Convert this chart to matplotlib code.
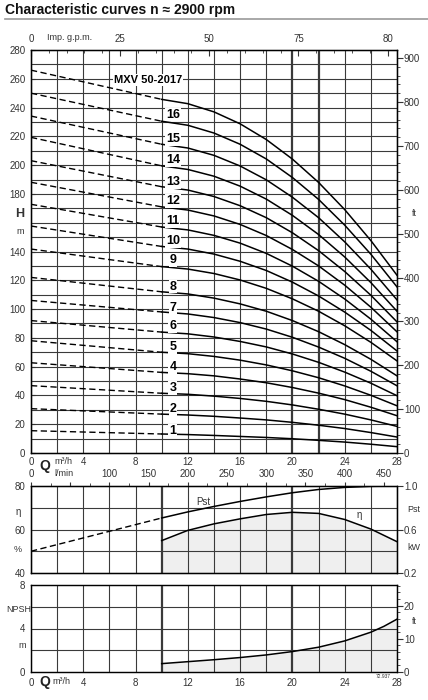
import matplotlib
matplotlib.use("Agg")
import matplotlib.pyplot as plt
from matplotlib.ticker import MultipleLocator, FixedLocator

plt.rcParams['font.family'] = ['Liberation Sans', 'DejaVu Sans']

# ---- data ----
q_dash = [0, 10]
q_solid = [10, 12, 14, 16, 18, 20, 22, 24, 26, 28]

# shut-off head (Q=0) for 1..17 stages, m
shutoff = [15.5, 30.8, 46.8, 62.7, 78.0, 92.0, 106.0, 122.0, 141.7,
           157.7, 172.8, 188.1, 203.1, 219.3, 234.1, 250.0, 266.0]

# head on the solid part (Q = 10..28), m
H01 = [13.2, 12.8, 12.2, 11.5, 10.8, 9.9, 8.8, 7.6, 6.1, 4.4]
H02 = [27.0, 26.4, 25.5, 24.3, 23.0, 21.3, 19.3, 17.0, 14.2, 11.1]
H03 = [41.5, 40.8, 39.5, 37.9, 35.9, 33.4, 30.4, 27.0, 23.0, 18.5]
H04 = [56.0, 55.1, 53.6, 51.4, 48.8, 45.5, 41.6, 37.1, 31.8, 25.9]
H05 = [70.0, 69.0, 67.1, 64.5, 61.2, 57.1, 52.3, 46.6, 40.1, 32.8]
H06 = [84.0, 82.8, 80.6, 77.5, 73.7, 68.8, 63.0, 56.2, 48.5, 39.8]
H07 = [98.0, 96.6, 94.1, 90.6, 86.1, 80.4, 73.6, 65.8, 56.8, 46.7]
H08 = [112.0, 110.5, 107.6, 103.6, 98.5, 92.0, 84.3, 75.3, 65.1, 53.6]
H09 = [129.5, 127.8, 124.7, 120.2, 114.4, 107.1, 98.5, 88.4, 76.9, 64.0]
H10 = [143.5, 141.7, 138.2, 133.2, 126.8, 118.7, 109.1, 97.9, 85.2, 70.9]
H11 = [157.0, 155.0, 151.2, 145.8, 138.7, 129.8, 119.3, 107.0, 93.0, 77.3]
H12 = [171.0, 168.8, 164.7, 158.8, 151.1, 141.4, 130.0, 116.6, 101.3, 84.2]
H13 = [185.0, 182.7, 178.2, 171.8, 163.5, 153.0, 140.6, 126.1, 109.6, 91.1]
H14 = [199.5, 197.0, 192.3, 185.4, 176.4, 165.1, 151.8, 136.2, 118.4, 98.5]
H15 = [214.5, 211.9, 206.8, 199.4, 189.8, 177.7, 163.5, 146.7, 127.7, 106.4]
H16 = [230.5, 227.7, 222.3, 214.5, 204.3, 191.4, 176.2, 158.3, 138.1, 115.4]
H17 = [245.7, 242.7, 237.0, 228.7, 217.8, 204.2, 188.0, 169.1, 147.6, 123.5]
heads = [H01, H02, H03, H04, H05, H06, H07, H08, H09, H10,
         H11, H12, H13, H14, H15, H16, H17]

stage_labels = [str(i) for i in range(1, 17)]
label_h = [15.5, 30.8, 45.2, 59.5, 73.6, 88.0, 100.5, 115.6, 133.9,
           147.1, 161.0, 174.9, 188.5, 203.6, 218.1, 235.1]

head_ticks = [0, 20, 40, 60, 80, 100, 120, 140, 180, 200, 220, 240, 260, 280]

# efficiency (%) and shaft power (kW)
q_eta = [10, 12, 14, 16, 18, 20, 22, 24, 26, 28]
eta = [54.9, 59.6, 62.6, 64.9, 66.9, 67.9, 67.4, 64.6, 60.2, 54.4]
q_pst_dash = [0, 10]
pst_dash = [0.40, 0.706]
q_pst = [10, 12, 14, 16, 18, 20, 22, 24, 26, 28]
pst = [0.706, 0.762, 0.812, 0.858, 0.900, 0.938, 0.968, 0.987, 0.997, 1.0]

# NPSH (m)
q_npsh = [10, 12, 14, 16, 18, 20, 22, 24, 26, 27, 28]
npsh = [0.77, 0.95, 1.13, 1.33, 1.57, 1.88, 2.28, 2.86, 3.66, 4.2, 4.86]

W, H = 428, 700
fig = plt.figure(figsize=(W / 100, H / 100), dpi=100)

TXT = '#333333'
GRID = '#3a3a3a'
SHADE = '#efefef'
FS = 7


def fx(px):
    return px / W


def fy(py):
    return 1 - py / H


def grid(ax, xs_thick, ys):
    for x in range(0, 29, 2):
        ax.axvline(x, color=GRID, lw=1.6 if x in xs_thick else 0.8, zorder=1)
    for y in ys:
        ax.axhline(y, color=GRID, lw=0.8, zorder=1)


# title
fig.text(fx(5), fy(10), "Characteristic curves n \u2248 2900 rpm", fontsize=10,
         fontweight='bold', va='center', ha='left', color='#111111')
fig.add_artist(plt.Line2D([fx(5), 1], [fy(19), fy(19)], color='#999999', lw=1.2))

# ---------------- head panel ----------------
ax = fig.add_axes([fx(31), fy(453), fx(366), 403 / H])
ax.set_xlim(0, 28)
ax.set_ylim(0, 280)
grid(ax, (20, 22), range(10, 280, 10))
for n in range(17):
    ax.plot(q_dash, [shutoff[n], heads[n][0]], color='black', lw=1.0,
            ls=(0, (4.5, 2.5)), zorder=3)
    ax.plot(q_solid, heads[n], color='black', lw=1.1, zorder=3)
for lab, hy in zip(stage_labels, label_h):
    ax.text(10.85, hy, lab, fontsize=9, fontweight='bold', ha='center', va='center',
            zorder=4, bbox=dict(facecolor='white', edgecolor='none', pad=0.6))
ax.text(8.95, 259.2, "MXV 50-2017", fontsize=8, fontweight='bold', ha='center',
        va='center', zorder=4, bbox=dict(facecolor='white', edgecolor='none', pad=0.8))

ax.set_yticks(head_ticks)
ax.tick_params(axis='y', direction='in', length=3, labelsize=FS, colors=TXT, pad=4)
ax.set_xticks([0, 4, 8, 12, 16, 20, 24, 28])
ax.tick_params(axis='x', length=0, labelsize=FS, colors=TXT, pad=3)
for s in ax.spines.values():
    s.set_color('#222222')
    s.set_linewidth(1.0)

axr = ax.twinx()
axr.set_ylim(0, 280 / 0.3048)
axr.yaxis.set_major_locator(MultipleLocator(100))
axr.yaxis.set_minor_locator(MultipleLocator(20))
axr.tick_params(axis='y', which='major', direction='out', length=4, labelsize=FS,
                colors=TXT, pad=1)
axr.tick_params(axis='y', which='minor', direction='out', length=2, colors=TXT)

axt = ax.twiny()
axt.set_xlim(0, 28 * 3.6662)
axt.xaxis.set_major_locator(FixedLocator([0, 25, 50, 75, 100]))
axt.set_xticklabels(['0', '25', '50', '75', '80'])
axt.xaxis.set_minor_locator(MultipleLocator(5))
axt.tick_params(axis='x', which='major', direction='in', length=4, labelsize=FS,
                colors=TXT, pad=4)
axt.tick_params(axis='x', which='minor', direction='in', length=2, colors=TXT)

fig.text(fx(47), fy(38), "Imp. g.p.m.", fontsize=6.5, color=TXT, va='center', ha='left')
fig.text(fx(20), fy(214), "H", fontsize=9, fontweight='bold', color=TXT, va='center', ha='center')
fig.text(fx(20), fy(231), "m", fontsize=6.5, color=TXT, va='center', ha='center')
fig.text(fx(414), fy(213), "ft", fontsize=6.5, color=TXT, va='center', ha='center')
fig.text(fx(45), fy(466), "Q", fontsize=10, fontweight='bold', color='#222222',
         va='center', ha='center')
fig.text(fx(54), fy(461), "m\u00b3/h", fontsize=6.5, color=TXT, va='center', ha='left')
fig.text(fx(54), fy(473), "l/min", fontsize=6.5, color=TXT, va='center', ha='left')

# ---------------- efficiency / power panel ----------------
am = fig.add_axes([fx(31), fy(573), fx(366), 87 / H])
am.set_xlim(0, 28)
am.set_ylim(40, 80)
am.fill_between(q_eta, eta, 40, color=SHADE, zorder=0, lw=0)
grid(am, (10, 20), (50, 60, 70))
am.plot(q_eta, eta, color='black', lw=1.1, zorder=3)
am.set_yticks([40, 60, 80])
am.tick_params(axis='y', length=0, labelsize=FS, colors=TXT, pad=4)
am.set_xticks([])
am.text(13.2, 72.6, "Pst", fontsize=7, color=TXT, ha='center', va='center', zorder=4)
am.text(25.1, 66.7, "\u03b7", fontsize=7, color=TXT, ha='center', va='center', zorder=4)
for s in am.spines.values():
    s.set_color('#222222')
    s.set_linewidth(1.0)

amr = am.twinx()
amr.set_ylim(0.2, 1.0)
amr.plot(q_pst_dash, pst_dash, color='black', lw=1.0, ls=(0, (4.5, 2.5)), zorder=3)
amr.plot(q_pst, pst, color='black', lw=1.1, zorder=3)
amr.set_yticks([0.2, 0.6, 1.0])
amr.set_yticklabels(['0.2', '0.6', '1.0'])
amr.tick_params(axis='y', direction='out', length=4, labelsize=FS, colors=TXT, pad=1)

amt = am.twiny()
amt.set_xlim(0, 28 * 1000 / 60)
amt.xaxis.set_major_locator(FixedLocator([0, 50, 100, 150, 200, 250, 300, 350, 400, 450]))
amt.set_xticklabels(['0', '', '100', '150', '200', '250', '300', '350', '400', '450'])
amt.xaxis.set_minor_locator(MultipleLocator(25))
amt.tick_params(axis='x', which='major', direction='out', length=3, labelsize=FS,
                colors=TXT, pad=2)
amt.tick_params(axis='x', which='minor', direction='out', length=2, colors=TXT)

fig.text(fx(18), fy(512), "\u03b7", fontsize=7, color=TXT, va='center', ha='center')
fig.text(fx(18), fy(549), "%", fontsize=6.5, color=TXT, va='center', ha='center')
fig.text(fx(414), fy(510), "Pst", fontsize=6.5, color=TXT, va='center', ha='center')
fig.text(fx(414), fy(548), "kW", fontsize=6.5, color=TXT, va='center', ha='center')

# ---------------- NPSH panel ----------------
an = fig.add_axes([fx(31), fy(672), fx(366), 87 / H])
an.set_xlim(0, 28)
an.set_ylim(0, 8)
an.fill_between(q_npsh, npsh, 0, color=SHADE, zorder=0, lw=0)
grid(an, (10, 20), (2, 4, 6))
an.plot(q_npsh, npsh, color='black', lw=1.1, zorder=3)
an.set_yticks([0, 4, 8])
an.tick_params(axis='y', length=0, labelsize=FS, colors=TXT, pad=4)
an.set_xticks([0, 4, 8, 12, 16, 20, 24, 28])
an.tick_params(axis='x', length=0, labelsize=FS, colors=TXT, pad=4)
for s in an.spines.values():
    s.set_color('#222222')
    s.set_linewidth(1.0)

anr = an.twinx()
anr.set_ylim(0, 8 / 0.3048)
anr.yaxis.set_major_locator(MultipleLocator(10))
anr.yaxis.set_minor_locator(MultipleLocator(2))
anr.tick_params(axis='y', which='major', direction='out', length=4, labelsize=FS,
                colors=TXT, pad=1)
anr.tick_params(axis='y', which='minor', direction='out', length=2, colors=TXT)

fig.text(fx(6), fy(609), "NPSH", fontsize=6.5, color=TXT, va='center', ha='left')
fig.text(fx(22), fy(645), "m", fontsize=6.5, color=TXT, va='center', ha='center')
fig.text(fx(414), fy(622), "ft", fontsize=6.5, color=TXT, va='center', ha='center')
fig.text(fx(45), fy(682), "Q", fontsize=10, fontweight='bold', color='#222222',
         va='center', ha='center')
fig.text(fx(52), fy(682), "m\u00b3/h", fontsize=6.5, color=TXT, va='center', ha='left')
fig.text(fx(383), fy(677), "72.937", fontsize=3.5, color=TXT, va='center', ha='center')

fig.savefig("out.png", dpi=100, facecolor='white')
